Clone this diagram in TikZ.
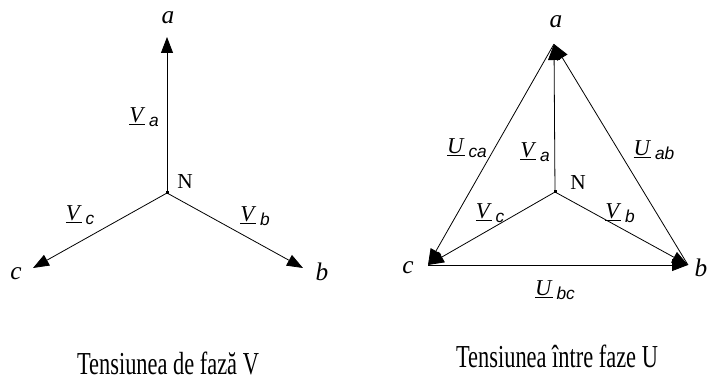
\documentclass[tikz,border=0pt]{standalone}
\usepackage{fontspec}
\setmainfont{Liberation Serif}
\setsansfont{Liberation Sans}
\usetikzlibrary{arrows.meta,calc}
\tikzset{
  phasor/.style={line width=0.6pt, -{Triangle[length=12pt,width=9pt]}},
  vertexlbl/.style={font=\itshape\fontsize{19}{19}\selectfont, inner sep=0pt},
  fazorlbl/.style={font=\fontsize{17}{17}\selectfont, inner sep=0pt},
  neutral/.style={font=\fontsize{16}{16}\selectfont, inner sep=0pt},
  caption/.style={font=\fontsize{24}{24}\selectfont, inner sep=0pt, anchor=base}
}
\newcommand{\fazor}[2]{\underline{\textit{#1}}\,\raisebox{-0.4ex}{\sffamily\itshape\fontsize{13}{13}\selectfont #2}}
\newcommand{\ingust}[1]{\scalebox{0.7}[1]{#1}}

\begin{document}
\begin{tikzpicture}[x=0.75pt,y=-0.75pt]
  \useasboundingbox (0,0) rectangle (714,384);

  % tensiunea de faza
  \coordinate (N1) at (167,193);
  \coordinate (a1) at (167,37);
  \coordinate (b1) at (303,268);
  \coordinate (c1) at (33,268);
  \foreach \p in {a1,b1,c1}{
    \draw[phasor] (N1) -- (\p);
  }
  \fill (N1) +(-1.5,-1.5) rectangle +(1.5,1.5);
  \node[vertexlbl] (la1) at (168,18) {a};
  \node[vertexlbl] (lb1) at (322,272) {b};
  \node[vertexlbl] (lc1) at (16,274) {c};
  \node[neutral] (lN1) at (185,182) {N};
  \node[fazorlbl] (Va1) at (144,117) {\fazor{V}{a}};
  \node[fazorlbl] (Vb1) at (255,216) {\fazor{V}{b}};
  \node[fazorlbl] (Vc1) at (80,215) {\fazor{V}{c}};
  \node[caption] (cap1) at (168,375) {\ingust{Tensiunea de fază V}};

  % tensiunea intre faze
  \coordinate (N2) at (555,192);
  \coordinate (a2) at (554,44);
  \coordinate (b2) at (688,265);
  \coordinate (c2) at (428,265);
  \foreach \p in {a2,b2,c2}{
    \draw[phasor] (N2) -- (\p);
  }
  \draw[phasor] (b2) -- (a2);
  \draw[phasor] (a2) -- (c2);
  \draw[phasor] (c2) -- (b2);
  \fill (N2) +(-1.5,-1.5) rectangle +(1.5,1.5);
  \node[vertexlbl] (la2) at (556,22) {a};
  \node[vertexlbl] (lb2) at (701,268) {b};
  \node[vertexlbl] (lc2) at (408,268) {c};
  \node[neutral] (lN2) at (578,183) {N};
  \node[fazorlbl] (Va2) at (535,152) {\fazor{V}{a}};
  \node[fazorlbl] (Vb2) at (620,213) {\fazor{V}{b}};
  \node[fazorlbl] (Vc2) at (490,213) {\fazor{V}{c}};
  \node[fazorlbl] (Uca) at (467,148) {\fazor{U}{ca}};
  \node[fazorlbl] (Uab) at (654,150) {\fazor{U}{ab}};
  \node[fazorlbl] (Ubc) at (555,290) {\fazor{U}{bc}};
  \node[caption] (cap2) at (557,368) {\ingust{Tensiunea între faze U}};
\end{tikzpicture}
\end{document}
